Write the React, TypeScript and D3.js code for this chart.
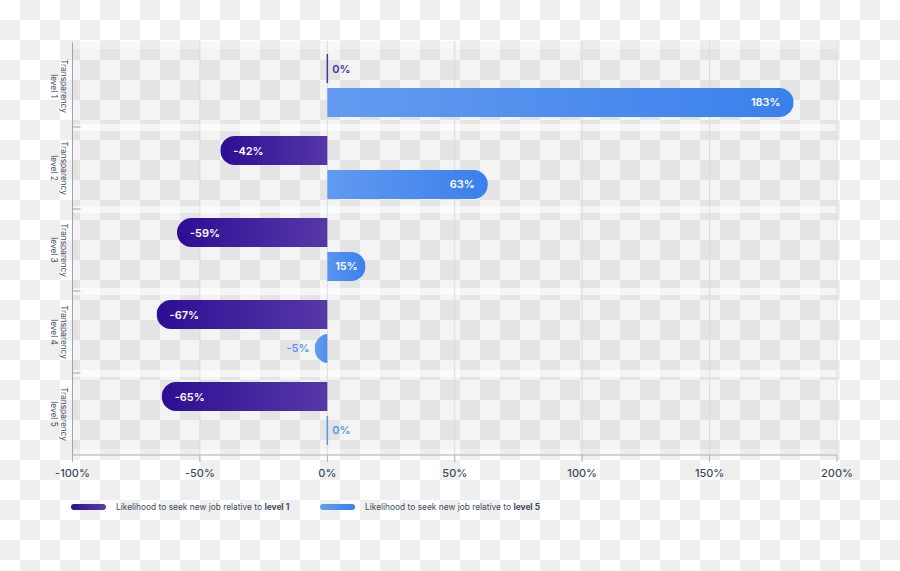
import * as d3 from 'd3';

// chart values
const levels = ['level 1', 'level 2', 'level 3', 'level 4', 'level 5'];
const relativeToLevel1 = [0, -42, -59, -67, -65];
const relativeToLevel5 = [183, 63, 15, -5, 0];
const seriesRefs = ['level 1', 'level 5'];
const xTicks = [-100, -50, 0, 50, 100, 150, 200];

const W = 900;
const H = 571;
const TEXT = '#3d4b5e';
const FONT = 'Inter, "Noto Sans", sans-serif';

const series = [
  { ref: seriesRefs[0], values: relativeToLevel1, grad: 'gPurple', label: '#4b2fa3' },
  { ref: seriesRefs[1], values: relativeToLevel5, grad: 'gBlue', label: '#5b95ee' },
];

export default function App() {
  const x = d3.scaleLinear().domain([-100, 200]).range([72.5, 837]);
  const y = d3.scaleBand<string>().domain(levels).range([45, 455]);
  const sub = d3.scaleBand<number>().domain([0, 1]).range([9, 72]).paddingInner(0.147);
  const top = 41;
  const bottom = 455;
  const x0 = x(0);
  const bh = sub.bandwidth();
  const r = bh / 2;

  const separators = levels.slice(1).map(l => y(l)!);

  return (
    <svg width={W} height={H} style={{ position: 'absolute', left: 0, top: 0 }} fontFamily={FONT}>
      <defs>
        <pattern id="checker" patternUnits="userSpaceOnUse" width={40} height={40}>
          <rect width={40} height={40} fill="#ffffff" />
          <rect x={20} y={0} width={20} height={20} fill="#efefef" />
          <rect x={0} y={20} width={20} height={20} fill="#efefef" />
        </pattern>
        <linearGradient id="gPurple" x1="0" x2="1" y1="0" y2="0">
          <stop offset="0%" stopColor="#2d0e94" />
          <stop offset="100%" stopColor="#5a3caa" />
        </linearGradient>
        <linearGradient id="gBlue" x1="0" x2="1" y1="0" y2="0">
          <stop offset="0%" stopColor="#659cf0" />
          <stop offset="100%" stopColor="#3a80ec" />
        </linearGradient>
        {series.map((s, si) =>
          s.values.map((v, i) => {
            const xv = x(v);
            const by = y(levels[i])! + sub(si)!;
            return (
              <clipPath key={`c${si}-${i}`} id={`clip${si}-${i}`}>
                <rect x={Math.min(x0, xv)} y={by} width={Math.abs(xv - x0)} height={bh} />
              </clipPath>
            );
          })
        )}
      </defs>

      {/* transparent-looking backdrop */}
      <rect width={W} height={H} fill="url(#checker)" />
      <rect x={x(-100)} y={top} width={x(200) - x(-100)} height={bottom - top} fill="#000" opacity={0.045} />
      <rect x={x(-100)} y={top} width={x(200) - x(-100)} height={8} fill="#fff" opacity={0.35} />
      <rect x={x(-100)} y={bottom - 6} width={x(200) - x(-100)} height={6} fill="#fff" opacity={0.35} />
      {separators.map((s, i) => (
        <rect key={i} x={x(-100)} y={s - 3} width={x(200) - x(-100)} height={7} fill="#fff" opacity={0.6} />
      ))}

      {/* gridlines */}
      {xTicks.map(t => (
        <line key={t} x1={x(t)} x2={x(t)} y1={top} y2={bottom} stroke="#dcdcdc" strokeWidth={1} />
      ))}

      {/* y axis */}
      <line x1={x(-100)} x2={x(-100)} y1={43} y2={bottom} stroke="#a3a3a3" strokeWidth={1} />
      {separators.map((s, i) => (
        <line key={i} x1={x(-100)} x2={x(-100) + 8} y1={s} y2={s} stroke="#a3a3a3" strokeWidth={1} />
      ))}
      {levels.map(l => {
        const cy = y(l)! + y.bandwidth() / 2;
        return (
          <text key={l} transform={`translate(57,${cy}) rotate(90)`} textAnchor="middle" fontSize={8.3} fill={TEXT}>
            <tspan x={0} dy={-4}>Transparency</tspan>
            <tspan x={0} dy={10}>{l}</tspan>
          </text>
        );
      })}

      {/* x axis */}
      <line x1={x(-100)} x2={x(200)} y1={bottom} y2={bottom} stroke="#b0b0b0" strokeWidth={1} />
      {xTicks.map(t => (
        <g key={t} transform={`translate(${x(t)},${bottom})`}>
          <line y1={0} y2={7} stroke="#b0b0b0" />
          <text y={22} textAnchor="middle" fontSize={11} fontWeight={500} fill={TEXT}>
            {`${t}%`}
          </text>
        </g>
      ))}

      {/* bars */}
      {series.map((s, si) =>
        s.values.map((v, i) => {
          const xv = x(v);
          const by = y(levels[i])! + sub(si)!;
          const w = Math.abs(xv - x0);
          const dir = v >= 0 ? 1 : -1;
          const cy = by + bh / 2 + 4;
          let label;
          if (v === 0) {
            label = (
              <text x={x0 + 5} y={cy} fontSize={11} fontWeight={600} fill={s.label}>{`${v}%`}</text>
            );
          } else if (w < 25) {
            label = (
              <text x={xv + dir * 5} y={cy} textAnchor={dir > 0 ? 'start' : 'end'} fontSize={11} fontWeight={600} fill={s.label}>{`${v}%`}</text>
            );
          } else if (w < 50) {
            label = (
              <text x={(x0 + xv) / 2} y={cy} textAnchor="middle" fontSize={11} fontWeight={600} fill="#fff">{`${v}%`}</text>
            );
          } else {
            label = (
              <text x={xv - dir * 13} y={cy} textAnchor={dir > 0 ? 'end' : 'start'} fontSize={11} fontWeight={600} fill="#fff">{`${v}%`}</text>
            );
          }
          return (
            <g key={`${si}-${i}`}>
              {v === 0 ? (
                <line x1={x0} x2={x0} y1={by} y2={by + bh} stroke={s.label} strokeWidth={1.5} />
              ) : (
                <g clipPath={`url(#clip${si}-${i})`}>
                  <rect
                    x={dir > 0 ? x0 - r : xv}
                    y={by}
                    width={w + r}
                    height={bh}
                    rx={r}
                    fill={`url(#${s.grad})`}
                  />
                </g>
              )}
              {label}
            </g>
          );
        })
      )}

      {/* legend */}
      {series.map((s, si) => {
        const lx = si === 0 ? 71 : 320;
        return (
          <g key={s.ref} transform={`translate(${lx},507)`}>
            <rect x={0} y={-3} width={35} height={6} rx={3} fill={`url(#${s.grad})`} />
            <text x={45} y={3.2} fontSize={8.4} fill={TEXT}>
              Likelihood to seek new job relative to <tspan fontWeight={700}>{s.ref}</tspan>
            </text>
          </g>
        );
      })}
    </svg>
  );
}
